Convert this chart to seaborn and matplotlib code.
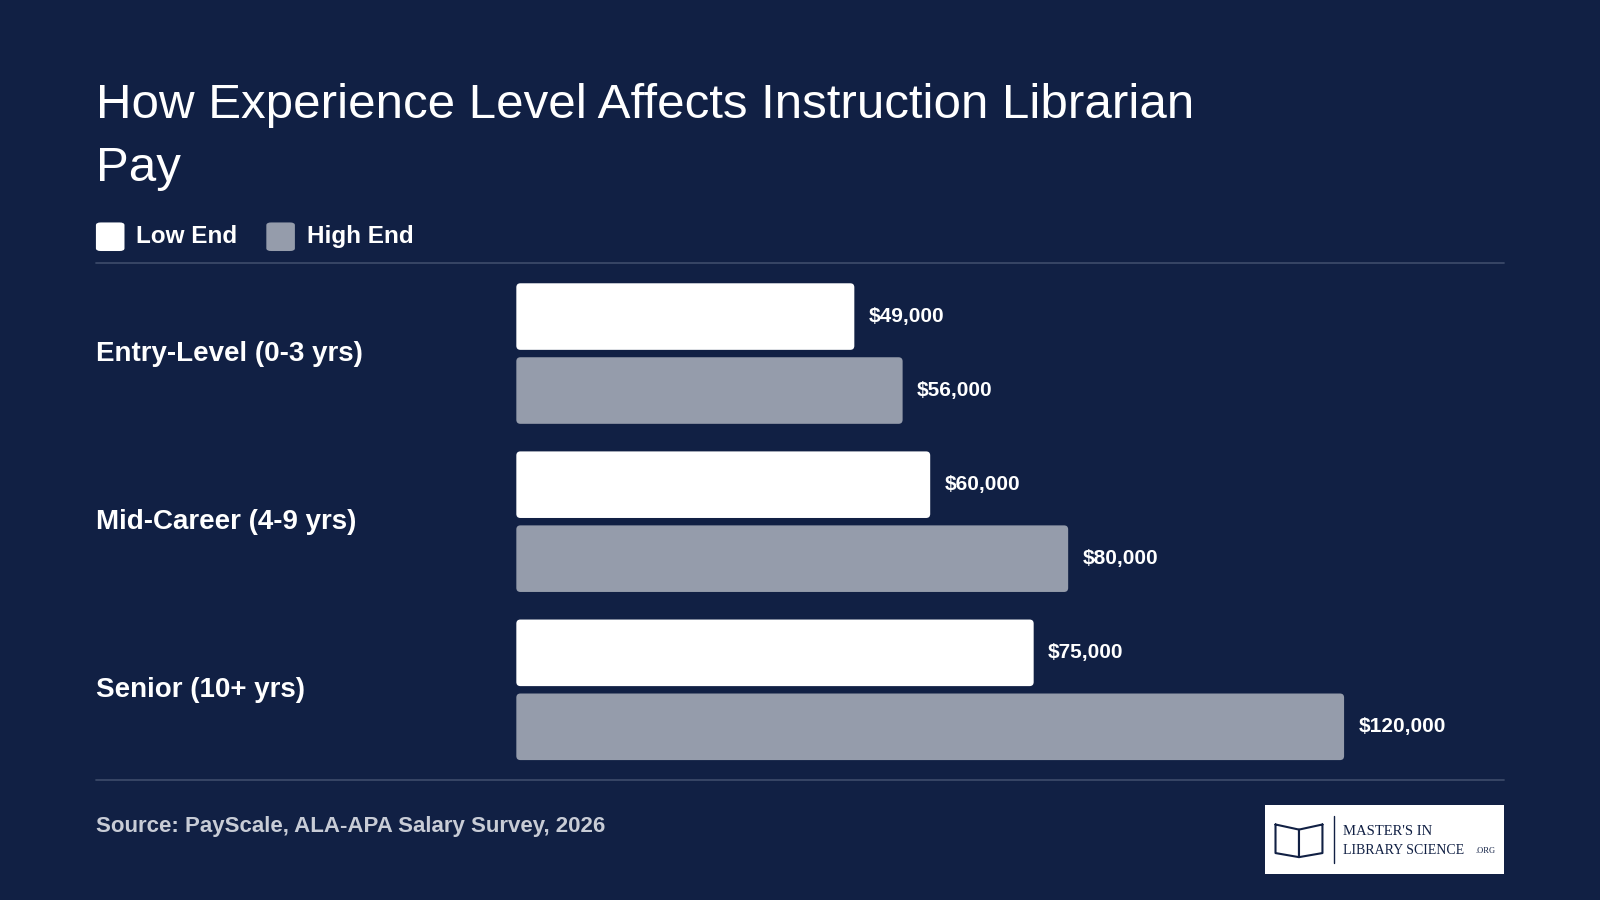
import pandas as pd
import numpy as np
import matplotlib.pyplot as plt
import seaborn as sns
from matplotlib.patches import FancyBboxPatch, Rectangle

sns.set_theme(style="white")
plt.rcParams['font.family'] = ['Liberation Sans', 'DejaVu Sans']

categories = ['Entry-Level (0-3 yrs)', 'Mid-Career (4-9 yrs)', 'Senior (10+ yrs)']
low_end = [49000, 60000, 75000]
high_end = [56000, 80000, 120000]
series = ['Low End', 'High End']

bg = '#112044'
colors = {'Low End': '#ffffff', 'High End': '#959cab'}

df = pd.DataFrame({
    'Level': categories * 2,
    'Salary': low_end + high_end,
    'Series': ['Low End'] * 3 + ['High End'] * 3,
})

W, H = 1568, 882
fig = plt.figure(figsize=(16, 9), dpi=100, facecolor=bg)


def fx(px):
    return px / W


def fy(py):
    return 1 - py / H


ax = fig.add_axes([fx(506), fy(764), fx(1474) - fx(506), fy(258) - fy(764)])
ax.set_facecolor(bg)
sns.barplot(data=df, y='Level', x='Salary', hue='Series', orient='h',
            palette=colors, width=0.88, gap=0.1, ax=ax, legend=False,
            saturation=1, linewidth=0)
xmax = (1474 - 506) / 0.00676
ax.set_xlim(0, xmax)
ax.set_ylim(2.534, -0.537)
ax.axis('off')

# rounded corners
px_x = xmax / (1474 - 506)
px_y = (2.534 + 0.537) / (764 - 258)
for p in list(ax.patches):
    x0, y0, w, h = p.get_x(), p.get_y(), p.get_width(), p.get_height()
    fc = p.get_facecolor()
    p.remove()
    ax.add_patch(FancyBboxPatch((x0, y0), w, h,
                                boxstyle=f"round,pad=0,rounding_size={4 * px_x}",
                                mutation_aspect=px_y / px_x, fc=fc, ec='none'))
    ax.text(x0 + w + 14 * px_x, y0 + h / 2, f"${w:,.0f}", color='white',
            fontsize=15, fontweight='bold', va='center', ha='left')

for i, c in enumerate(categories):
    fig.text(fx(94), fy(347 + i * 164.75), c, color='white', fontsize=20,
             fontweight='bold', va='center', ha='left')

# title
fig.text(fx(94), fy(103), 'How Experience Level Affects Instruction Librarian',
         color='white', fontsize=35.5, va='center', ha='left')
fig.text(fx(94), fy(165), 'Pay', color='white', fontsize=35.5, va='center', ha='left')

# legend
for lx, tx, s in [(94, 133, 'Low End'), (261, 301, 'High End')]:
    fig.patches.append(FancyBboxPatch((fx(lx), fy(246)), fx(28), fy(218) - fy(246),
                                      boxstyle="round,pad=0,rounding_size=0.003",
                                      transform=fig.transFigure, fc=colors[s], ec='none'))
    fig.text(fx(tx), fy(232), s, color='white', fontsize=17.5, fontweight='bold',
             va='center', ha='left')

# rules
for yy in (258, 764):
    fig.add_artist(plt.Line2D([fx(94), fx(1474)], [fy(yy), fy(yy)],
                              color='#3a4868', lw=1.3, transform=fig.transFigure))

fig.text(fx(94), fy(810), 'Source: PayScale, ALA-APA Salary Survey, 2026',
         color='#c8ccd6', fontsize=16, fontweight='bold', va='center', ha='left')

# logo
fig.patches.append(Rectangle((fx(1240), fy(857)), fx(234), fy(789) - fy(857),
                             transform=fig.transFigure, fc='white', ec='none'))
fig.add_artist(plt.Line2D([fx(1250), fx(1273), fx(1273), fx(1250), fx(1250)],
                          [fy(808), fy(813), fy(840), fy(836), fy(808)],
                          color=bg, lw=1.5, transform=fig.transFigure))
fig.add_artist(plt.Line2D([fx(1296), fx(1273), fx(1273), fx(1296), fx(1296)],
                          [fy(808), fy(813), fy(840), fy(836), fy(808)],
                          color=bg, lw=1.5, transform=fig.transFigure))
fig.add_artist(plt.Line2D([fx(1307), fx(1307)], [fy(800), fy(846)],
                          color=bg, lw=1, transform=fig.transFigure))
fig.text(fx(1316), fy(815), "MASTER'S IN", color=bg, fontsize=10.5,
         family='Liberation Serif', va='center', ha='left')
fig.text(fx(1316), fy(833), "LIBRARY SCIENCE", color=bg, fontsize=10,
         family='Liberation Serif', va='center', ha='left')
fig.text(fx(1446), fy(834), ".ORG", color=bg, fontsize=6,
         family='Liberation Serif', va='center', ha='left')

fig.savefig('out.png', dpi=100, facecolor=bg)
